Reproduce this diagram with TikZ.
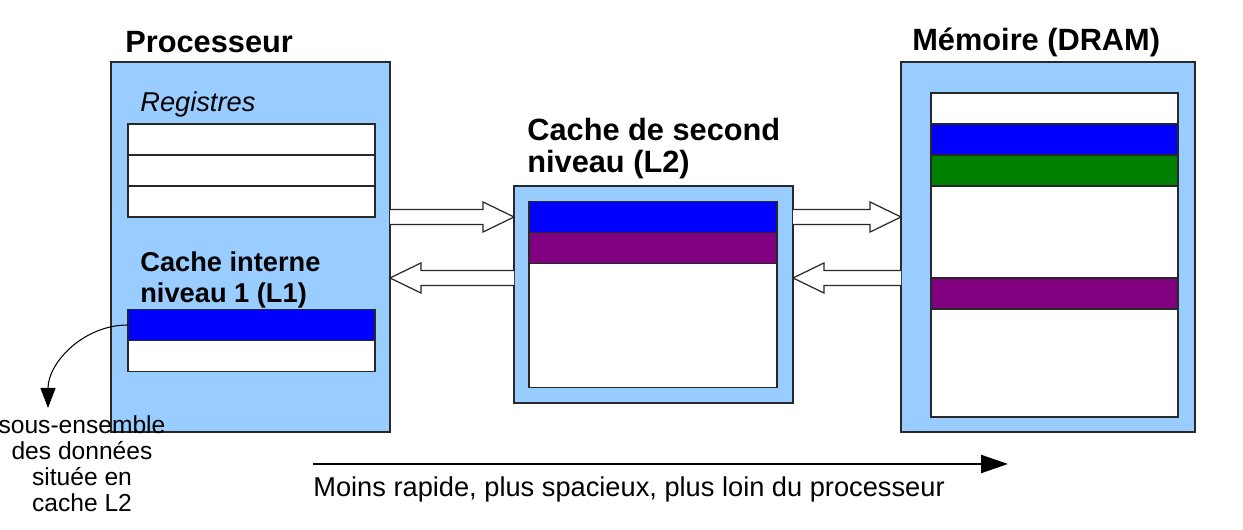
\documentclass[tikz,border=0pt]{standalone}
\usepackage{fontspec}
\setmainfont{Liberation Sans}
\usetikzlibrary{arrows.meta, positioning, calc}
\definecolor{bleuclair}{RGB}{153, 204, 255}
\definecolor{bordgris}{RGB}{40, 40, 40}
\definecolor{violet}{RGB}{128, 0, 128}
\definecolor{vert}{RGB}{0, 128, 0}

% grosse fleche creuse : #1 = depart, #2 = pointe (meme hauteur)
\newcommand{\grossefleche}[2]{%
  \draw[bloc] let \p1=(#1), \p2=(#2), \n1={sign(\x2-\x1)} in
    (\x1,\y1+4.27pt) -- (\x2-\n1*17.6pt,\y1+4.27pt) -- (\x2-\n1*17.6pt,\y1+8.54pt)
    -- (\x2,\y1) -- (\x2-\n1*17.6pt,\y1-8.54pt) -- (\x2-\n1*17.6pt,\y1-4.27pt)
    -- (\x1,\y1-4.27pt);}

\begin{document}
\begin{tikzpicture}[
    unite/.style={rectangle, draw=bordgris, fill=bleuclair, line width=0.8pt,
                  inner sep=0pt, outer sep=0pt},
    case/.style={rectangle, draw=bordgris, fill=white, line width=0.7pt,
                 minimum width=4.94cm, minimum height=0.62cm,
                 inner sep=0pt, outer sep=0pt},
    titre/.style={font=\fontsize{17.5}{18.5}\selectfont\bfseries, align=left,
                  inner sep=0pt, anchor=west},
    soustitre/.style={font=\fontsize{15.5}{17.6}\selectfont\bfseries, align=left,
                      inner sep=0pt, anchor=west},
    bloc/.style={draw=bordgris, fill=white, line width=0.7pt},
    texte/.style={font=\fontsize{14}{14.8}\selectfont, inner sep=0pt}
]
\useasboundingbox (0,0) rectangle (24.86,10.6);

%% ── PROCESSEUR ──────────────────────────────────────────────────────────────
\node[unite, minimum width=5.58cm, minimum height=7.4cm] (proc) at (5.01, 5.66) {};
\node[titre] (tproc) at (2.5, 9.76) {Processeur};
\node[soustitre, font=\fontsize{15.5}{17.6}\selectfont\itshape] (treg) at (2.8, 8.52) {Registres};
\node[case] (reg1) at (5.03, 7.81) {};
\node[case, below=0pt of reg1] (reg2) {};
\node[case, below=0pt of reg2] (reg3) {};
\node[soustitre] (tl1) at (2.8, 5.01) {Cache interne\\niveau 1 (L1)};
\node[case, fill=blue] (l1a) at (5.03, 4.1) {};
\node[case, below=0pt of l1a] (l1b) {};

%% ── CACHE L2 ────────────────────────────────────────────────────────────────
\node[unite, minimum width=5.58cm, minimum height=4.34cm] (l2) at (13.07, 4.71) {};
\node[titre] (tl2) at (10.54, 7.63) {Cache de second\\niveau (L2)};
\node[case, minimum width=4.96cm, fill=blue] (l2a) at (13.06, 6.26) {};
\node[case, minimum width=4.96cm, fill=violet, below=0pt of l2a] (l2b) {};
\node[case, minimum width=4.96cm, minimum height=2.48cm, below=0pt of l2b] (l2c) {};

%% ── MEMOIRE ─────────────────────────────────────────────────────────────────
\node[unite, minimum width=5.88cm, minimum height=7.4cm] (dram) at (20.96, 5.66) {};
\node[titre] (tdram) at (18.24, 9.76) {Mémoire (DRAM)};
\node[case] (m1) at (21.09, 8.43) {};
\node[case, fill=blue, below=0pt of m1] (m2) {};
\node[case, fill=vert, below=0pt of m2] (m3) {};
\node[case, minimum height=1.84cm, below=0pt of m3] (m4) {};
\node[case, fill=violet, below=0pt of m4] (m5) {};
\node[case, minimum height=2.16cm, below=0pt of m5] (m6) {};

%% ── Echanges ────────────────────────────────────────────────────────────────
\coordinate (haut) at (0, 6.26);
\coordinate (bas)  at (0, 5.04);
\grossefleche{proc.east |- haut}{l2.west |- haut}
\grossefleche{l2.west |- bas}{proc.east |- bas}
\grossefleche{l2.east |- haut}{dram.west |- haut}
\grossefleche{dram.west |- bas}{l2.east |- bas}

%% ── Sous-ensemble ───────────────────────────────────────────────────────────
\coordinate (pointe) at (0.96, 2.44);
\draw[line width=0.6pt, -{Triangle[length=0.4cm, width=0.3cm]}]
     (l1a.west) to[out=180, in=90] (pointe);
\node[texte, align=center, anchor=north] (note) at (1.64, 2.3)
     {sous-ensemble\\des données\\située en\\cache L2};

%% ── Hierarchie ──────────────────────────────────────────────────────────────
\coordinate (debut) at (6.26, 1.32);
\coordinate (fin)   at (20.16, 1.32);
\draw[line width=1.2pt, -{Triangle[length=0.54cm, width=0.36cm]}] (debut) -- (fin);
\node[texte, font=\fontsize{15.5}{16}\selectfont, anchor=west] (legende) at (6.26, 0.82)
     {Moins rapide, plus spacieux, plus loin du processeur};

\end{tikzpicture}
\end{document}
